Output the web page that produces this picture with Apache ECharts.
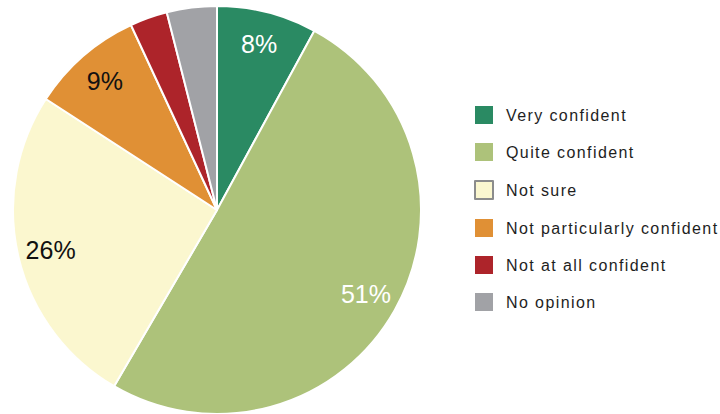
<!DOCTYPE html>
<html>
<head>
<meta charset="utf-8">
<script src="https://cdn.jsdelivr.net/npm/echarts@6/dist/echarts.min.js"></script>
<style>
  html, body { margin: 0; padding: 0; background: #fff; }
  #chart { width: 720px; height: 414px; }
</style>
</head>
<body>
<div id="chart"></div>
<script>
// Survey responses: confidence level (percent of respondents)
const categories = [
  'Very confident',
  'Quite confident',
  'Not sure',
  'Not particularly confident',
  'Not at all confident',
  'No opinion'
];
const shares = [8, 51, 26, 9, 3, 4];
const sliceColors = ['#2a8a63', '#adc27a', '#fbf7cf', '#e09035', '#ad242a', '#a1a2a6'];
const labelColors = ['#ffffff', '#ffffff', '#111111', '#111111', '#111111', '#111111'];

const chart = echarts.init(document.getElementById('chart'), null, { renderer: 'svg' });

const center = [217, 210];
const fontFamily = '"Liberation Sans", Arial, sans-serif';

const sliceData = categories.map((name, i) => ({
  name,
  value: shares[i],
  itemStyle: { color: sliceColors[i] }
}));

// Label ring: same values, invisible slices, labels sitting in the outer part of each wedge
const labelData = categories.map((name, i) => ({
  name,
  value: shares[i],
  label: { color: labelColors[i] }
}));

chart.setOption({
  animation: false,
  backgroundColor: '#ffffff',
  legend: {
    orient: 'vertical',
    left: 469,
    top: 101,
    itemWidth: 18,
    itemHeight: 18,
    itemGap: 19,
    icon: 'rect',
    itemStyle: { borderWidth: 0 },
    textStyle: {
      fontFamily,
      fontSize: 16,
      color: '#1e1e1e',
      padding: [0, 0, 0, 8]
    },
    data: categories.map((name) =>
      name === 'Not sure'
        ? { name, itemStyle: { borderColor: '#8c8c8c', borderWidth: 2 } }
        : { name }
    )
  },
  series: [
    {
      type: 'pie',
      center,
      radius: [0, 204],
      startAngle: 90,
      clockwise: true,
      silent: true,
      label: { show: false },
      labelLine: { show: false },
      itemStyle: { borderColor: '#ffffff', borderWidth: 2 },
      data: sliceData
    },
    {
      type: 'pie',
      center,
      radius: [132, 204],
      startAngle: 90,
      clockwise: true,
      silent: true,
      legendHoverLink: false,
      itemStyle: { color: 'rgba(0,0,0,0)', borderWidth: 0 },
      label: {
        show: true,
        position: 'inside',
        fontFamily,
        fontSize: 25,
        formatter: (p) => (p.value >= 5 ? p.value + '%' : '')
      },
      labelLine: { show: false },
      data: labelData
    }
  ]
});

// Legend captions are set with a little extra tracking
function trackLegendText() {
  document.querySelectorAll('#chart svg text').forEach((t) => {
    if (categories.includes(t.textContent)) {
      t.style.letterSpacing = '1.4px';
    }
  });
}
trackLegendText();
chart.on('finished', trackLegendText);
</script>
</body>
</html>
